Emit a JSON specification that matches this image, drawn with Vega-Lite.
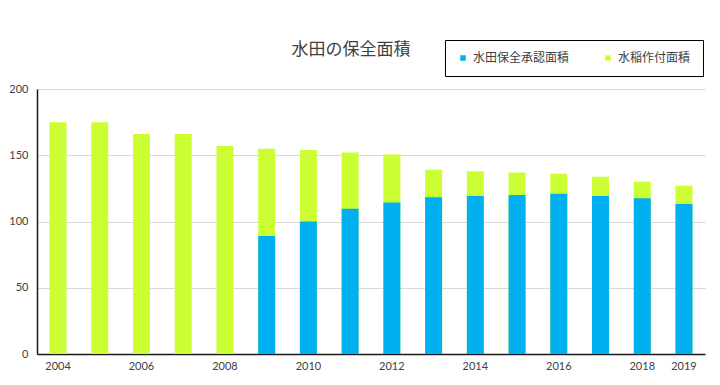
{
  "$schema": "https://vega.github.io/schema/vega-lite/v6.json",
  "width": 668,
  "height": 265,
  "autosize": {"type": "none"},
  "padding": {"left": 37, "top": 89, "right": 15, "bottom": 31},
  "background": "white",
  "title": {
    "text": "水田の保全面積",
    "font": "Noto Sans CJK JP",
    "fontSize": 17,
    "fontWeight": "normal",
    "color": "#404040",
    "anchor": "middle",
    "frame": "group",
    "dx": -20,
    "dy": 51,
    "offset": 32
  },
  "data": {
    "values": [
      {"year": "2004", "series": "水稲作付面積", "value": 175},
      {"year": "2005", "series": "水稲作付面積", "value": 175},
      {"year": "2006", "series": "水稲作付面積", "value": 166},
      {"year": "2007", "series": "水稲作付面積", "value": 166},
      {"year": "2008", "series": "水稲作付面積", "value": 157},
      {"year": "2009", "series": "水稲作付面積", "value": 155},
      {"year": "2010", "series": "水稲作付面積", "value": 154},
      {"year": "2011", "series": "水稲作付面積", "value": 152},
      {"year": "2012", "series": "水稲作付面積", "value": 150.5},
      {"year": "2013", "series": "水稲作付面積", "value": 139},
      {"year": "2014", "series": "水稲作付面積", "value": 138},
      {"year": "2015", "series": "水稲作付面積", "value": 137},
      {"year": "2016", "series": "水稲作付面積", "value": 136},
      {"year": "2017", "series": "水稲作付面積", "value": 133.7},
      {"year": "2018", "series": "水稲作付面積", "value": 130},
      {"year": "2019", "series": "水稲作付面積", "value": 127},
      {"year": "2009", "series": "水田保全承認面積", "value": 89},
      {"year": "2010", "series": "水田保全承認面積", "value": 100},
      {"year": "2011", "series": "水田保全承認面積", "value": 109.6},
      {"year": "2012", "series": "水田保全承認面積", "value": 114.3},
      {"year": "2013", "series": "水田保全承認面積", "value": 118.3},
      {"year": "2014", "series": "水田保全承認面積", "value": 119.3},
      {"year": "2015", "series": "水田保全承認面積", "value": 120},
      {"year": "2016", "series": "水田保全承認面積", "value": 120.9},
      {"year": "2017", "series": "水田保全承認面積", "value": 119.3},
      {"year": "2018", "series": "水田保全承認面積", "value": 117.6},
      {"year": "2019", "series": "水田保全承認面積", "value": 113.3}
    ]
  },
  "mark": {"type": "bar"},
  "encoding": {
    "x": {
      "field": "year",
      "type": "ordinal",
      "scale": {"paddingInner": 0.593, "paddingOuter": 0.3},
      "axis": {
        "title": null,
        "values": ["2004", "2006", "2008", "2010", "2012", "2014", "2016", "2018", "2019"],
        "labelAngle": 0,
        "labelFont": "Lato",
        "labelFontSize": 11,
        "labelColor": "#404040",
        "labelPadding": 6,
        "ticks": false,
        "domainColor": "#1a1a1a",
        "domainWidth": 1.5,
        "grid": false
      }
    },
    "y": {
      "field": "value",
      "type": "quantitative",
      "stack": null,
      "scale": {"domain": [0, 200], "nice": false},
      "axis": {
        "title": null,
        "values": [0, 50, 100, 150, 200],
        "labelFont": "Lato",
        "labelFontSize": 11,
        "labelColor": "#404040",
        "labelPadding": 9,
        "ticks": false,
        "domainColor": "#1a1a1a",
        "domainWidth": 1.5,
        "grid": true,
        "gridColor": "#d9d9d9",
        "gridWidth": 1
      }
    },
    "color": {
      "field": "series",
      "type": "nominal",
      "scale": {
        "domain": ["水田保全承認面積", "水稲作付面積"],
        "range": ["#00B0F0", "#CCFF33"]
      },
      "legend": {
        "title": null,
        "orient": "none",
        "legendX": 408,
        "legendY": -49,
        "direction": "horizontal",
        "columns": 2,
        "columnPadding": 32,
        "padding": 12,
        "strokeColor": "#000000",
        "fillColor": "white",
        "symbolType": "square",
        "symbolSize": 30,
        "symbolStrokeWidth": 0,
        "labelOffset": 4,
        "labelFont": "Noto Sans CJK JP",
        "labelFontSize": 12,
        "labelColor": "#404040"
      }
    }
  },
  "config": {
    "view": {"stroke": null}
  }
}
